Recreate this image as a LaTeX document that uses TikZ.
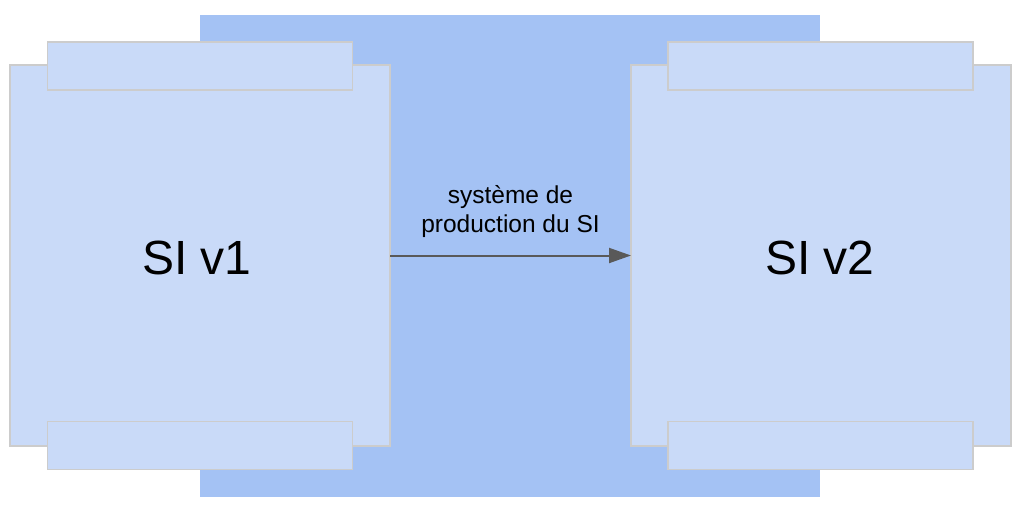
\documentclass[tikz,border=0pt]{standalone}
\usepackage{fontspec}
\setmainfont{Liberation Sans}
\usepackage{tikz}
\usetikzlibrary{positioning,arrows.meta}

\definecolor{bgblue}{HTML}{A4C2F4}
\definecolor{siblue}{HTML}{C9DAF8}
\definecolor{edgegray}{HTML}{CCCCCC}
\definecolor{arrowgray}{HTML}{595959}

\begin{document}
\begin{tikzpicture}[x=1pt, y=-1pt, >={Triangle[length=22pt,width=15pt]},
  sibox/.style={draw=edgegray, line width=1.6pt, fill=siblue, inner sep=0pt, outer sep=0pt,
              minimum width=380pt, minimum height=381pt},
  sitab/.style={draw=edgegray, line width=1.6pt, fill=siblue, inner sep=0pt, outer sep=0pt,
              minimum width=305pt, minimum height=48pt}]
  \useasboundingbox (0,0) rectangle (1024,511);
  \node[fill=bgblue, inner sep=0pt, minimum width=620pt, minimum height=482pt] (prod) at (510,256) {};
  % SI v1
  \node[sibox] (si1) at (200,255.5) {};
  \node[sitab] (tab1t) at (200,66) {};
  \node[sitab] (tab1b) at (200,445.5) {};
  \node[font=\fontsize{48}{56}\selectfont] (lbl1) at (197,258) {SI v1};
  % SI v2
  \node[sibox] (si2) at (821,255.5) {};
  \node[sitab] (tab2t) at (820.5,66) {};
  \node[sitab] (tab2b) at (820.5,445.5) {};
  \node[font=\fontsize{48}{56}\selectfont] (lbl2) at (820,258) {SI v2};
  % transition
  \draw[->, draw=arrowgray, fill=arrowgray, line width=2pt] (si1) -- (si2)
    node[midway, above=14pt, align=center, font=\fontsize{24.5}{29}\selectfont] (flux) {système de\\production du SI};
\end{tikzpicture}
\end{document}
